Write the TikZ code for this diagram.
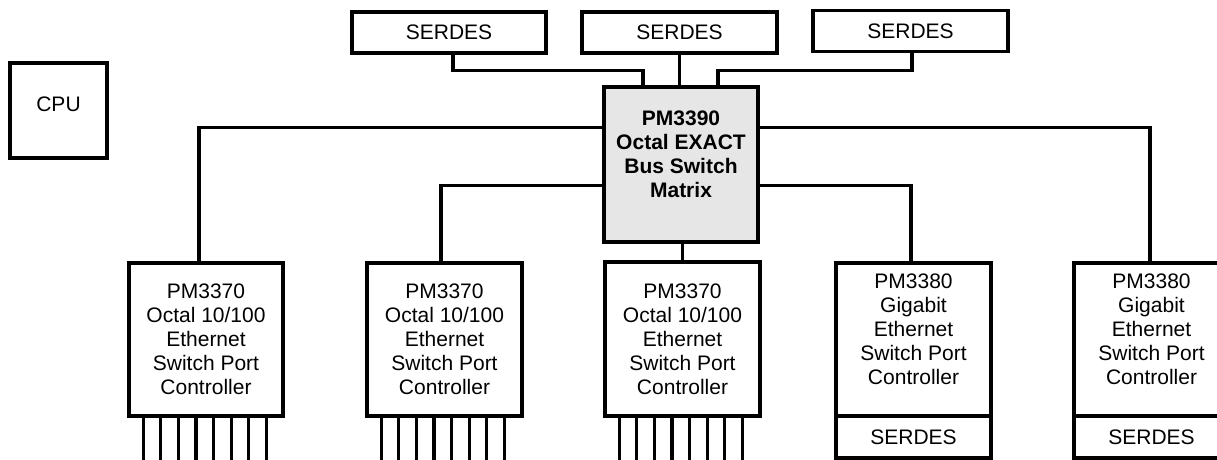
\documentclass[tikz,border=0pt]{standalone}
\usepackage{fontspec}
\setmainfont{Liberation Sans}
\usetikzlibrary{calc}
\tikzset{
  blk/.style={draw=black, line width=3.5pt, inner sep=0pt, align=center, font=\fontsize{21}{24}\selectfont},
  lbl/.style={inner sep=0pt, align=center, font=\fontsize{21}{24}\selectfont},
  wire/.style={line width=3.2pt},
  pinline/.style={line width=3.2pt},
}
\begin{document}
\begin{tikzpicture}[x=1pt,y=-1pt]
\useasboundingbox (0,0) rectangle (1217,460);
% CPU
\node[blk, minimum width=97pt, minimum height=95pt] (cpu) at (58.5,110.5) {};
\node[lbl] (cputxt) at (58.5,104.5) {CPU};
% top SERDES
\node[blk, minimum width=194pt, minimum height=41pt] (s1) at (449,32.5) {SERDES};
\node[blk, minimum width=195pt, minimum height=41pt] (s2) at (679.5,32.5) {SERDES};
\node[blk, minimum width=195pt, minimum height=41pt] (s3) at (910.5,31) {SERDES};
% switch matrix
\node[blk, fill={rgb,255:red,230;green,230;blue,230}, minimum width=154pt, minimum height=155pt] (pm) at (681,164.5) {};
\node[lbl, font=\fontsize{21}{24}\selectfont\bfseries] (pmtxt) at (681,154.5) {PM3390\\Octal EXACT\\Bus Switch\\Matrix};
% port controllers
\node[blk, minimum width=154pt, minimum height=153pt] (b1) at (206,339.5) {PM3370\\Octal 10/100\\Ethernet\\Switch Port\\Controller};
\node[blk, minimum width=155pt, minimum height=153pt] (b2) at (444.5,339.5) {PM3370\\Octal 10/100\\Ethernet\\Switch Port\\Controller};
\node[blk, minimum width=155pt, minimum height=154pt] (b3) at (682.5,339) {PM3370\\Octal 10/100\\Ethernet\\Switch Port\\Controller};
\node[blk, minimum width=155pt, minimum height=153pt] (b4) at (913.5,339.5) {};
\node[lbl] (b4txt) at (913.5,329) {PM3380\\Gigabit\\Ethernet\\Switch Port\\Controller};
\node[blk, minimum width=155pt, minimum height=42pt] (g4) at (913.5,437) {SERDES};
\node[blk, minimum width=155pt, minimum height=153pt] (b5) at (1151.5,339.5) {};
\node[lbl] (b5txt) at (1151.5,329) {PM3380\\Gigabit\\Ethernet\\Switch Port\\Controller};
\node[blk, minimum width=155pt, minimum height=42pt] (g5) at (1151.5,437) {SERDES};
% SERDES to matrix
\draw[wire] ($(s1.south)+(4,0)$) |- ($(pm.north)+(-38,-15)$) -- ($(pm.north)+(-38,0)$);
\draw[wire] (s2.south) -- (s2.south |- pm.north);
\draw[wire] ($(s3.south)+(1.5,0)$) |- ($(pm.north)+(37,-15)$) -- ($(pm.north)+(37,0)$);
% matrix to controllers
\draw[wire] ($(pm.north west)+(0,42)$) -| ($(b1.north)+(-7,0)$);
\draw[wire] ($(pm.north west)+(0,100)$) -| ($(b2.north)+(-3.5,0)$);
\draw[wire] ($(pm.north east)+(0,42)$) -| ($(b5.north)+(-1.5,0)$);
\draw[wire] ($(pm.north east)+(0,100)$) -| ($(b4.north)+(-2.5,0)$);
\draw[wire] (b3.north |- pm.south) -- (b3.north);
% port pins
\foreach \i in {0,...,7} {
  \draw[pinline] ($(b1.south west)+(16+17.57*\i,0)$) -- ++(0,50);
  \draw[pinline] ($(b2.south west)+(16+17.57*\i,0)$) -- ++(0,50);
  \draw[pinline] ($(b3.south west)+(16+17.57*\i,0)$) -- ++(0,50);
}
\end{tikzpicture}
\end{document}
